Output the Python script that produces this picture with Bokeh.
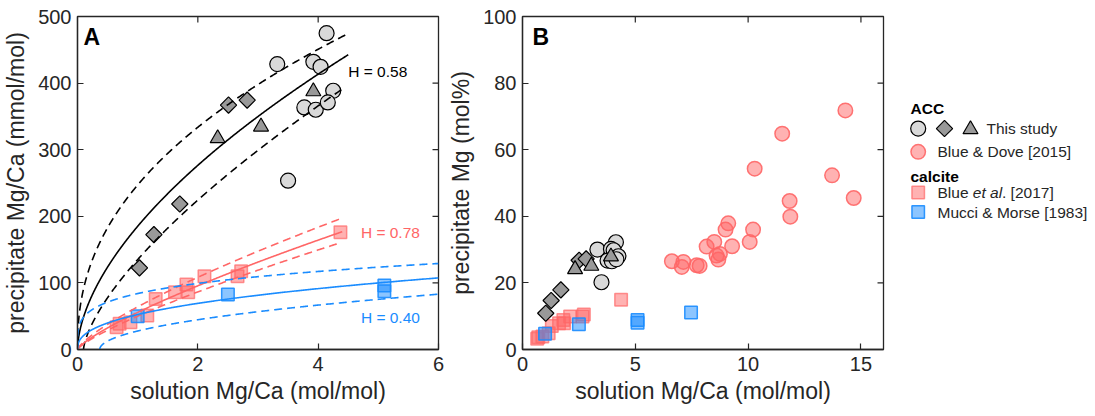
import numpy as np
from bokeh.plotting import figure
from bokeh.models import Range1d, FixedTicker, Label
from bokeh.layouts import row
from bokeh.embed import file_html
from bokeh.resources import INLINE
from bokeh.core.properties import value

FONT = "Liberation Sans"
AX = "#262626"
RED = "#ff6666"
BLUE = "#1a8cff"

# ---------------- data : panel A (solution Mg/Ca mol/mol, precipitate Mg/Ca mmol/mol)
acc_circ_x = [4.14, 3.32, 3.92, 4.04, 4.25, 3.77, 3.96, 4.16, 3.50]
acc_circ_y = [475, 428.5, 432, 424.5, 388.5, 363.5, 360, 371, 253.5]
acc_diam_x = [2.51, 2.82, 1.70, 1.27, 1.03]
acc_diam_y = [367, 374.5, 218.5, 172.5, 122.5]
acc_tri_x = [2.33, 3.05, 3.92]
acc_tri_y = [317, 334.5, 387.5]
blue17_x = [4.37, 2.72, 2.66, 2.11, 1.81, 1.84, 1.62, 1.30, 1.16, 0.88, 0.70, 0.65]
blue17_y = [176, 117.5, 110, 110, 97.5, 86, 86, 76, 51, 41, 38.5, 33.5]
mucci_x = [1.00, 2.50, 5.10, 5.10, 7.47]
mucci_y = [50, 82.5, 96, 87.5, 125]

# fitted partition curves  y = K * (x - x0)^H
fit_names = ["ACC", "Blue 2017", "Mucci 1983"]
fit_K = [185, 55.7, 52.5]
fit_H = [0.58, 0.78, 0.40]
fit_xmax = [4.5, 4.4, 6.0]
up_K = [247, 64, 84]
up_H = [0.434, 0.76, 0.24]
up_xmax = [4.5, 4.42, 6.0]
lo_K = [145, 50, 35]
lo_H = [0.68, 0.79, 0.5]
lo_x0 = [0.1, 0.0, 0.37]
lo_xmax = [4.42, 4.35, 6.0]
fit_labels = ["H = 0.58", "H = 0.78", "H = 0.40"]
fit_label_x = [4.5, 4.71, 4.71]
fit_label_y = [417, 176, 48.5]
fit_colors = ["black", RED, BLUE]

# ---------------- data : panel B (solution Mg/Ca mol/mol, precipitate Mg mol%)
bd_x = [14.31, 11.51, 10.29, 13.72, 11.84, 14.68, 11.87, 10.22, 10.07, 9.12, 9.00,
        9.29, 8.16, 8.50, 8.60, 8.68, 8.75, 6.62, 7.13, 7.06, 7.72, 7.85]
bd_y = [71.8, 64.8, 54.3, 52.3, 44.6, 45.5, 39.9, 36.0, 32.3, 37.9, 36.0,
        31.0, 30.9, 32.3, 28.2, 27.0, 28.7, 26.5, 26.3, 24.8, 25.3, 25.1]
accB_circ_y = [32.2, 30.0, 30.2, 29.8, 28.0, 26.7, 26.5, 27.1, 20.2]
accB_diam_y = [26.8, 27.2, 17.9, 14.7, 10.9]
accB_tri_y = [24.1, 25.1, 27.9]
blue17B_y = [14.97, 10.52, 9.91, 9.91, 8.88, 7.92, 7.92, 7.06, 4.85, 3.94, 3.71, 3.24]
mucciB_y = [4.76, 7.62, 8.83, 8.04, 11.1]

A_xticks = [0, 2, 4, 6]
A_yticks = [0, 100, 200, 300, 400, 500]
B_xticks = [0, 5, 10, 15]
B_yticks = [0, 20, 40, 60, 80, 100]

FRAME_W = 362
FRAME_H = 333
TICK = 6


def style_axes(p, xt, yt, xlabel, ylabel, xr, yr):
    for ax in p.xaxis + p.yaxis:
        ax.axis_line_color = AX
        ax.axis_line_width = 1.3
        ax.major_tick_line_color = AX
        ax.major_tick_line_width = 1.2
        ax.major_tick_in = TICK
        ax.major_tick_out = 0
        ax.minor_tick_line_color = None
        ax.major_label_text_font = FONT
        ax.major_label_text_font_size = "20px"
        ax.major_label_text_color = AX
        ax.axis_label_text_font = FONT
        ax.axis_label_text_font_size = "23px"
        ax.axis_label_text_font_style = "normal"
        ax.axis_label_text_color = AX
    p.xaxis.ticker = FixedTicker(ticks=xt)
    p.yaxis.ticker = FixedTicker(ticks=yt)
    p.xaxis.major_label_standoff = 7
    p.yaxis.major_label_standoff = 6
    p.xaxis.axis_label_standoff = 4
    p.yaxis.axis_label_standoff = 6
    p.xaxis.axis_label = xlabel
    p.yaxis.axis_label = ylabel
    # mirrored inward ticks on the top and right edges of the box
    dy = TICK * (yr[1] - yr[0]) / FRAME_H
    dx = TICK * (xr[1] - xr[0]) / FRAME_W
    xin = [v for v in xt if xr[0] < v < xr[1]]
    yin = [v for v in yt if yr[0] < v < yr[1]]
    p.segment(x0=xin, y0=[yr[1]] * len(xin), x1=xin, y1=[yr[1] - dy] * len(xin),
              line_color=AX, line_width=1.2)
    p.segment(x0=[xr[1]] * len(yin), y0=yin, x1=[xr[1] - dx] * len(yin), y1=yin,
              line_color=AX, line_width=1.2)
    p.grid.visible = False
    p.outline_line_color = AX
    p.outline_line_width = 1.3
    p.background_fill_color = "white"
    p.border_fill_color = "white"


def acc_markers(p, cx, cy, dx, dy, tx, ty):
    p.scatter(cx, cy, marker="circle", size=15, fill_color="#d9d9d9",
              line_color="black", line_width=1.2)
    p.scatter(dx, dy, marker="square", angle=np.pi / 4, size=11.5,
              fill_color="#999999", line_color="black", line_width=1.2)
    p.scatter(tx, ty, marker="triangle", size=15, fill_color="#999999",
              line_color="black", line_width=1.2)


# ---------------- panel A
A_xr, A_yr = (0, 6), (0, 500)
pA = figure(width=445, height=416, x_range=Range1d(*A_xr), y_range=Range1d(*A_yr),
            min_border_left=76, min_border_right=7, min_border_top=16,
            min_border_bottom=67, toolbar_location=None, output_backend="svg")
style_axes(pA, A_xticks, A_yticks, "solution Mg/Ca (mol/mol)",
           "precipitate Mg/Ca (mmol/mol)", A_xr, A_yr)

pA.scatter(blue17_x, blue17_y, marker="square", size=12.5, fill_color=RED,
           fill_alpha=0.5, line_color=RED, line_alpha=0.7, line_width=1.5)
pA.scatter(mucci_x, mucci_y, marker="square", size=12.5, fill_color=BLUE,
           fill_alpha=0.5, line_color=BLUE, line_alpha=0.9, line_width=1.5)
acc_markers(pA, acc_circ_x, acc_circ_y, acc_diam_x, acc_diam_y, acc_tri_x, acc_tri_y)

t = np.linspace(0, 1, 500) ** 2
for i in range(3):
    xs = t * fit_xmax[i]
    pA.line(xs, fit_K[i] * xs ** fit_H[i], line_color=fit_colors[i], line_width=1.6)
    xs = t * up_xmax[i]
    pA.line(xs, up_K[i] * xs ** up_H[i], line_color=fit_colors[i], line_width=1.6,
            line_dash="8 5")
    xs = lo_x0[i] + t * (lo_xmax[i] - lo_x0[i])
    pA.line(xs, lo_K[i] * (xs - lo_x0[i]) ** lo_H[i], line_color=fit_colors[i],
            line_width=1.6, line_dash="8 5")
    pA.add_layout(Label(x=fit_label_x[i], y=fit_label_y[i], text=fit_labels[i],
                        text_font=FONT, text_font_size="15.5px",
                        text_color=fit_colors[i], text_baseline="middle"))

pA.add_layout(Label(x=0.1, y=489, text="A", text_font=FONT, text_font_size="23px",
                    text_font_style="bold", text_color="black", text_baseline="top"))

# ---------------- panel B
B_xr, B_yr = (0, 16), (0, 100)
pB = figure(width=445, height=416, x_range=Range1d(*B_xr), y_range=Range1d(*B_yr),
            min_border_left=75, min_border_right=7, min_border_top=16,
            min_border_bottom=67, toolbar_location=None, output_backend="svg")
style_axes(pB, B_xticks, B_yticks, "solution Mg/Ca (mol/mol)",
           "precipitate Mg (mol%)", B_xr, B_yr)

pB.scatter(bd_x, bd_y, marker="circle", size=14.5, fill_color=RED, fill_alpha=0.5,
           line_color=RED, line_alpha=0.9, line_width=1.5)
pB.scatter(blue17_x, blue17B_y, marker="square", size=12.5, fill_color=RED,
           fill_alpha=0.5, line_color=RED, line_alpha=0.7, line_width=1.5)
pB.scatter(mucci_x, mucciB_y, marker="square", size=12.5, fill_color=BLUE,
           fill_alpha=0.5, line_color=BLUE, line_alpha=0.9, line_width=1.5)
acc_markers(pB, acc_circ_x, accB_circ_y, acc_diam_x, accB_diam_y, acc_tri_x, accB_tri_y)

pB.add_layout(Label(x=0.44, y=97.8, text="B", text_font=FONT, text_font_size="23px",
                    text_font_style="bold", text_color="black", text_baseline="top"))

# ---------------- legend panel
pL = figure(width=205, height=416, x_range=Range1d(890, 1095), y_range=Range1d(416, 0),
            min_border=0, min_border_left=0, min_border_right=0, min_border_top=0,
            min_border_bottom=0, x_axis_type=None, y_axis_type=None,
            toolbar_location=None, output_backend="svg")
pL.grid.visible = False
pL.outline_line_color = None

tf = value(FONT)
fs = value("15.5px")
pL.text([910], [115], text=["ACC"], text_font=tf, text_font_size=fs,
        text_font_style="bold", text_baseline="middle", text_color="black")
pL.scatter([917.7], [140], marker="circle", size=15, fill_color="#d9d9d9",
           line_color="black", line_width=1.2)
pL.scatter([944], [140], marker="square", angle=np.pi / 4, size=11.5,
           fill_color="#999999", line_color="black", line_width=1.2)
pL.scatter([970], [141], marker="triangle", size=15, fill_color="#999999",
           line_color="black", line_width=1.2)
pL.text([986], [140], text=["This study"], text_font=tf, text_font_size=fs,
        text_baseline="middle", text_color=AX)
pL.scatter([917.7], [169], marker="circle", size=14.5, fill_color=RED, fill_alpha=0.5,
           line_color=RED, line_alpha=0.9, line_width=1.5)
pL.text([937], [169], text=["Blue & Dove [2015]"], text_font=tf,
        text_font_size=fs, text_baseline="middle", text_color=AX)
pL.text([910], [199.5], text=["calcite"], text_font=tf, text_font_size=fs,
        text_font_style="bold", text_baseline="middle", text_color="black")
pL.scatter([917.7], [220], marker="square", size=12.5, fill_color=RED, fill_alpha=0.5,
           line_color=RED, line_alpha=0.7, line_width=1.5)
pL.text([937], [220], text=["Blue "], text_font=tf, text_font_size=fs,
        text_baseline="middle", text_color=AX)
pL.text([972.3], [220], text=["et al"], text_font=tf, text_font_size=fs,
        text_font_style="italic", text_baseline="middle", text_color=AX)
pL.text([1001.5], [220], text=[". [2017]"], text_font=tf, text_font_size=fs,
        text_baseline="middle", text_color=AX)
pL.scatter([917.7], [244.3], marker="square", size=12.5, fill_color=BLUE, fill_alpha=0.5,
           line_color=BLUE, line_alpha=0.9, line_width=1.5)
pL.text([937], [244.3], text=["Mucci & Morse [1983]"], text_font=tf,
        text_font_size=fs, text_baseline="middle", text_color=AX)

layout = row(pA, pB, pL, spacing=0)
open("out.html", "w").write(file_html(layout, INLINE))
